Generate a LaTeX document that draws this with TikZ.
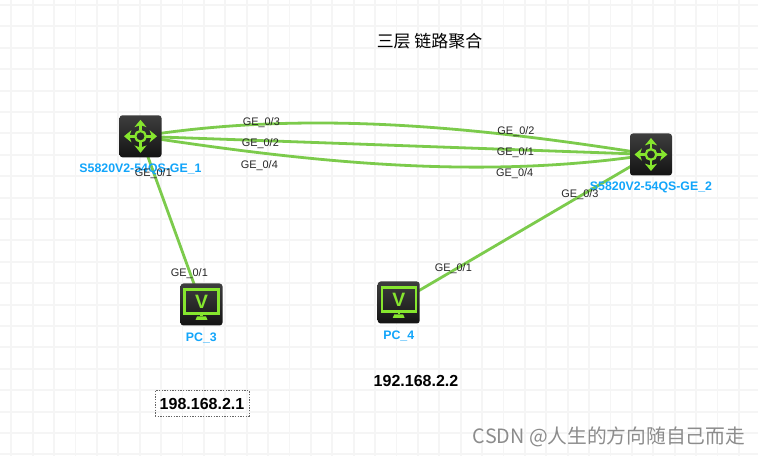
\documentclass[tikz,border=0pt]{standalone}
\usepackage{fontspec}
\setmainfont{Liberation Sans}
\newfontfamily\cjkfont{Noto Sans CJK SC}
\usetikzlibrary{backgrounds,arrows.meta}
\definecolor{gridgray}{HTML}{F5F5F5}
\definecolor{linkgreen}{HTML}{7CCB4C}
\definecolor{glyphgreen}{HTML}{86E62E}
\definecolor{namecyan}{HTML}{12A5FA}
\definecolor{boxtop}{HTML}{3E3E3E}
\definecolor{boxbot}{HTML}{141414}
\tikzset{
  x=0.75pt, y=-0.75pt,
  devbox/.style={minimum size=31.5pt, inner sep=0pt, rounded corners=2.2pt,
    top color=boxtop, bottom color=boxbot, draw=none},
  link/.style={draw=linkgreen, line width=2.1pt},
  port/.style={font=\fontsize{8.2pt}{9pt}\selectfont, text=black!85, inner sep=0pt},
  devname/.style={font=\bfseries\fontsize{9.25pt}{10pt}\selectfont, text=namecyan, inner sep=0pt},
  addr/.style={font=\bfseries\fontsize{12pt}{13pt}\selectfont, text=black, inner sep=0pt},
  glyph/.style={draw=glyphgreen, line width=1.7pt},
  arrowglyph/.style={draw=glyphgreen, line width=2pt, -{Stealth[length=5.5pt,width=9pt,inset=1.5pt]}},
  pics/router/.style={code={
    \draw[glyph] (0,0) circle (5.3);
    \foreach \a in {0,90,180,270}
      \draw[arrowglyph] (\a:5.8) -- (\a:16.5);
  }},
  pics/terminal/.style={code={
    \draw[glyph] (-17,-15) rectangle (17,9);
    \node[inner sep=0pt, text=glyphgreen, font=\bfseries\fontsize{14.5pt}{15pt}\selectfont] at (0,-3) {V};
    \fill[glyphgreen] (-1.2,9) rectangle (1.2,12);
    \fill[glyphgreen] (-4.5,12) -- (4.5,12) -- (6,15.5) -- (-6,15.5) -- cycle;
  }}
}
\begin{document}
\begin{tikzpicture}
\useasboundingbox (0,0) rectangle (758,456);

% device boxes and their symbols
\node[devbox] (sw1) at (140.5,136.3) {};
\node[devbox] (sw2) at (651,154.5) {};
\node[devbox] (pc3) at (201.5,304.5) {};
\node[devbox] (pc4) at (398.7,302.5) {};
\pic at (sw1) {router};
\pic at (sw2) {router};
\pic at (pc3) {terminal};
\pic at (pc4) {terminal};

\begin{pgfonlayer}{background}
  \fill[white] (0,0) rectangle (758,456);
  % drawing sheet grid
  \foreach \k in {0,...,35}
    \draw[gridgray, line width=1.4pt] ({11.3+21.4*\k},0) -- ({11.3+21.4*\k},456);
  \foreach \k in {0,...,21}
    \draw[gridgray, line width=1.4pt] (0,{5+21.4*\k}) -- (758,{5+21.4*\k});
  % links between devices
  \draw[link] (sw1.center) .. controls +(170,-27) and +(-170,-27) .. (sw2.center);
  \draw[link] (sw1.center) .. controls +(170,6) and +(-170,-6) .. (sw2.center);
  \draw[link] (sw1.center) .. controls +(170,26) and +(-170,26) .. (sw2.center);
  \draw[link] (sw1.center) -- (pc3.center);
  \draw[link] (sw2.center) -- (pc4.center);
\end{pgfonlayer}

% device names
\node[devname] (n1) at (140.5,169) {S5820V2-54QS-GE\_1};
\node[devname] (n2) at (651,187) {S5820V2-54QS-GE\_2};
\node[devname] (n3) at (201.3,338) {PC\_3};
\node[devname] (n4) at (398.7,336) {PC\_4};

% port labels
\node[port] (p1) at (261.3,122.7) {GE\_0/3};
\node[port] (p2) at (260.3,143.7) {GE\_0/2};
\node[port] (p3) at (259.3,165.3) {GE\_0/4};
\node[port] (p4) at (153.3,173.3) {GE\_0/1};
\node[port] (p5) at (516,131.7) {GE\_0/2};
\node[port] (p6) at (515.3,153) {GE\_0/1};
\node[port] (p7) at (514.7,174) {GE\_0/4};
\node[port] (p8) at (580,195) {GE\_0/3};
\node[port] (p9) at (189.3,273.7) {GE\_0/1};
\node[port] (p10) at (453.3,268.3) {GE\_0/1};

% title and addresses
\node[inner sep=0pt, font=\cjkfont\fontsize{12.7pt}{14pt}\selectfont] (title) at (429.5,40.7) {三层 链路聚合};
\node[addr, draw=black!60, dash pattern=on 1pt off 1pt, line width=0.5pt, minimum width=70.5pt, minimum height=19pt] (a1) at (202,403.5) {198.168.2.1};
\node[addr] (a2) at (416,380.7) {192.168.2.2};

% watermark
\node[inner sep=0pt, anchor=west, text=black!45, font=\cjkfont\fontsize{14.8pt}{16pt}\selectfont] (wm) at (472.7,436.7) {CSDN @人生的方向随自己而走};
\end{tikzpicture}
\end{document}
